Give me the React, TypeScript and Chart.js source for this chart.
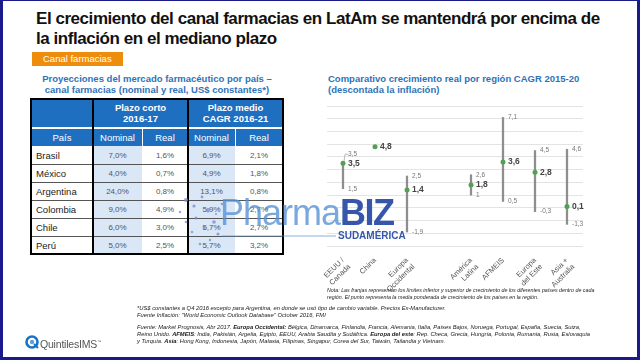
import React, { useEffect, useRef } from "react";
import { Chart, registerables } from "chart.js";

Chart.register(...registerables);

// ---- Chart data (right panel) ----
const regionLabels: (string | string[])[] = [
  ["EEUU /", "Canada"],
  "China",
  ["Europa", "Occidental"],
  "",
  ["América", "Latina"],
  "AFMEIS",
  ["Europa", "del Este"],
  ["Asia +", "Australia"],
];
const lowValues: (number | null)[] = [1.5, null, -1.9, null, 1, 0.5, -0.3, -1.3];
const highValues: (number | null)[] = [3.5, null, 2.5, null, 2.6, 7.1, 4.5, 4.6];
const midValues: (number | null)[] = [3.5, 4.8, 1.4, null, 1.8, 3.6, 2.8, 0.1];
const yMin = -3;
const yMax = 8;
const yStep = 1;

// ---- Table data (left panel) ----
const countries = ["Brasil", "México", "Argentina", "Colombia", "Chile", "Perú"];
const shortNominal = ["7,0%", "4,0%", "24,0%", "9,0%", "6,0%", "5,0%"];
const shortReal = ["1,6%", "0,7%", "0,8%", "4,9%", "3,0%", "2,5%"];
const midNominal = ["6,9%", "4,9%", "13,1%", "5,9%", "5,7%", "5,7%"];
const midReal = ["2,1%", "1,8%", "0,8%", "2,7%", "2,7%", "3,2%"];

const FONT = '"Liberation Sans", Arial, Helvetica, sans-serif';
const fmt = (v: number) => String(v).replace(".", ",");

const labelPlugin = {
  id: "rangeLabels",
  afterDatasetsDraw(chart: any) {
    const { ctx, scales } = chart;
    const x = scales.x;
    const y = scales.y;
    ctx.save();
    ctx.textBaseline = "middle";
    ctx.textAlign = "left";
    regionLabels.forEach((_, i) => {
      const px = x.getPixelForValue(i);
      const lo = lowValues[i];
      const hi = highValues[i];
      const mid = midValues[i];
      ctx.font = `6.5px ${FONT}`;
      ctx.fillStyle = "#777";
      if (hi != null) {
        let yy = y.getPixelForValue(hi);
        if (mid != null && Math.abs(hi - mid) < 0.3) {
          ctx.strokeStyle = "#aaa";
          ctx.lineWidth = 0.8;
          ctx.beginPath();
          ctx.moveTo(px + 1, yy - 2);
          ctx.lineTo(px + 2, yy - 9);
          ctx.lineTo(px + 5, yy - 9);
          ctx.stroke();
          yy -= 9;
        }
        ctx.fillText(fmt(hi), px + 5, yy);
      }
      if (lo != null) {
        ctx.fillText(fmt(lo), px + 5, y.getPixelForValue(lo));
      }
      if (mid != null) {
        ctx.font = `bold 8.5px ${FONT}`;
        ctx.fillStyle = "#444";
        ctx.fillText(fmt(mid), px + 5, y.getPixelForValue(mid));
      }
    });
    ctx.restore();
  },
};

function RangeChart() {
  const ref = useRef<HTMLCanvasElement>(null);
  useEffect(() => {
    if (!ref.current) return;
    const ranges = lowValues.map((lo, i) => {
      const hi = highValues[i];
      return lo != null && hi != null ? [lo, hi] : null;
    });
    const chart = new Chart(ref.current, {
      type: "bar",
      data: {
        labels: regionLabels as any,
        datasets: [
          {
            type: "line",
            data: midValues as any,
            showLine: false,
            pointRadius: 2.5,
            pointBackgroundColor: "#52a152",
            pointBorderWidth: 0,
            order: 0,
          } as any,
          {
            type: "bar",
            data: ranges as any,
            backgroundColor: "#8e8e8e",
            barThickness: 1.6,
            order: 1,
          } as any,
        ],
      },
      options: {
        responsive: false,
        animation: false,
        maintainAspectRatio: false,
        layout: { padding: { left: 22, right: 22, top: 10, bottom: 0 } },
        plugins: { legend: { display: false }, tooltip: { enabled: false } },
        scales: {
          x: {
            grid: { display: false },
            border: { display: false },
            ticks: {
              minRotation: 45,
              maxRotation: 45,
              autoSkip: false,
              padding: 2,
              color: "#555",
              font: { size: 7.5, family: FONT },
            },
            afterFit: (s: any) => {
              s.height = 50;
            },
          },
          y: {
            min: yMin,
            max: yMax,
            ticks: { display: false, stepSize: yStep },
            grid: { color: "#e4e4e4", lineWidth: 1, drawTicks: false },
            border: { display: false },
            afterFit: (s: any) => {
              s.width = 0;
            },
          },
        },
      },
      plugins: [labelPlugin],
    });
    return () => chart.destroy();
  }, []);
  return (
    <canvas
      ref={ref}
      width={300}
      height={200}
      style={{ position: "absolute", left: 305, top: 96, width: 300, height: 200 }}
    />
  );
}

const colX = [31, 93, 142, 188, 235, 283];
const dataTop = 146;
const rowH = 18;
const headBlue = "#1f6fc0";
const nominalBg = "#d9e7f7";

function Table() {
  const els: React.ReactNode[] = [];
  const abs = (l: number, t: number, w: number, h: number, extra: React.CSSProperties = {}) => ({
    position: "absolute" as const,
    left: l,
    top: t,
    width: w,
    height: h,
    ...extra,
  });
  // header background
  els.push(<div key="hbg" style={abs(31, 99, 252, 47, { background: headBlue })} />);
  // white separator between header rows
  els.push(<div key="hsep" style={abs(31, 127, 252, 2, { background: "#fff" })} />);
  // nominal column backgrounds
  els.push(<div key="nb1" style={abs(93, dataTop, 49, rowH * 6, { background: nominalBg })} />);
  els.push(<div key="nb2" style={abs(188, dataTop, 47, rowH * 6, { background: nominalBg })} />);
  // header texts
  const center: React.CSSProperties = {
    display: "flex",
    alignItems: "center",
    justifyContent: "center",
    textAlign: "center",
    color: "#fff",
    fontSize: 9.5,
    lineHeight: "11px",
  };
  els.push(
    <div key="h1a" style={abs(93, 99, 95, 28, { ...center, fontWeight: "bold" })}>
      Plazo corto
      <br />
      2016-17
    </div>
  );
  els.push(
    <div key="h1b" style={abs(188, 99, 95, 28, { ...center, fontWeight: "bold" })}>
      Plazo medio
      <br />
      CAGR 2016-21
    </div>
  );
  const sub = ["País", "Nominal", "Real", "Nominal", "Real"];
  sub.forEach((s, i) => {
    els.push(
      <div key={"h2" + i} style={abs(colX[i], 129, colX[i + 1] - colX[i], 17, center)}>
        {s}
      </div>
    );
  });
  // white thin lines in header row 2
  els.push(<div key="wl1" style={abs(141.5, 129, 1, 17, { background: "#fff" })} />);
  els.push(<div key="wl2" style={abs(234.5, 129, 1, 17, { background: "#fff" })} />);
  // data rows
  const cols = [shortNominal, shortReal, midNominal, midReal];
  countries.forEach((c, r) => {
    const top = dataTop + r * rowH;
    els.push(
      <div
        key={"c" + r}
        style={abs(36, top, 57, rowH, {
          display: "flex",
          alignItems: "center",
          fontSize: 9.5,
          color: "#222",
        })}
      >
        {c}
      </div>
    );
    cols.forEach((arr, ci) => {
      els.push(
        <div
          key={"d" + r + "-" + ci}
          style={abs(colX[ci + 1], top, colX[ci + 2] - colX[ci + 1], rowH, {
            ...center,
            color: "#555",
            fontSize: 8,
          })}
        >
          {arr[r]}
        </div>
      );
    });
    if (r > 0) {
      els.push(<div key={"rl" + r} style={abs(31, top, 252, 1, { background: "#555" })} />);
    }
  });
  // thick black verticals
  els.push(<div key="bv1" style={abs(92, 99, 2, 155, { background: "#000" })} />);
  els.push(<div key="bv2" style={abs(187, 99, 2, 155, { background: "#000" })} />);
  // outer border
  els.push(
    <div
      key="outer"
      style={abs(30, 98, 254, 157, { border: "2px solid #000", boxSizing: "border-box" })}
    />
  );
  return <>{els}</>;
}

function Watermark() {
  const dots = [
    [186, 200, 2], [194, 206, 1.6], [202, 197, 1.4], [208, 210, 2], [196, 218, 1.5],
    [186, 222, 1.3], [214, 222, 1.8], [204, 228, 1.4], [192, 232, 1.2], [218, 234, 1.6],
    [210, 240, 1.2], [200, 244, 1.3], [222, 204, 1.3], [180, 212, 1.2], [216, 214, 1.1],
  ];
  return (
    <div style={{ position: "absolute", left: 0, top: 0, width: 640, height: 360, pointerEvents: "none" }}>
      <svg width={640} height={360} style={{ position: "absolute", left: 0, top: 0 }}>
        {dots.map((d, i) => (
          <circle key={i} cx={d[0]} cy={d[1]} r={d[2]} fill="#7c86c8" opacity={0.75} />
        ))}
        <line x1={222} y1={236} x2={336} y2={236} stroke="#5b8fd0" strokeWidth={1} opacity={0.7} />
      </svg>
      <div
        style={{
          position: "absolute",
          left: 220,
          top: 195,
          fontSize: 36,
          lineHeight: "36px",
          letterSpacing: -1,
          color: "rgba(86,146,212,0.8)",
          fontFamily: FONT,
          whiteSpace: "nowrap",
        }}
      >
        Pharma
        <span style={{ color: "#3556ab", fontWeight: "bold", letterSpacing: -1.5 }}>BIZ</span>
      </div>
      <div
        style={{
          position: "absolute",
          left: 338,
          top: 230,
          fontSize: 10,
          lineHeight: "12px",
          fontWeight: "bold",
          color: "#3556ab",
          fontFamily: FONT,
          whiteSpace: "nowrap",
        }}
      >
        SUDAMÉRICA
      </div>
    </div>
  );
}

export default function App() {
  const foot: React.CSSProperties = {
    position: "absolute",
    fontStyle: "italic",
    fontSize: 5.8,
    lineHeight: "6.8px",
    color: "#222",
    whiteSpace: "nowrap",
  };
  return (
    <div
      style={{
        position: "absolute",
        left: 0,
        top: 0,
        width: 640,
        height: 360,
        background: "#1a1a8a",
        fontFamily: FONT,
        overflow: "hidden",
      }}
    >
      <div style={{ position: "absolute", left: 3, top: 1, width: 634, height: 356, background: "#fff" }} />
      {/* Title */}
      <div
        style={{
          position: "absolute",
          left: 36,
          top: 9,
          fontSize: 17,
          lineHeight: "20px",
          fontWeight: "bold",
          letterSpacing: -0.45,
          color: "#111",
          whiteSpace: "nowrap",
        }}
      >
        El crecimiento del canal farmacias en LatAm se mantendrá por encima de
        <br />
        la inflación en el mediano plazo
      </div>
      {/* Orange tag */}
      <div
        style={{
          position: "absolute",
          left: 32,
          top: 52,
          width: 91,
          height: 14,
          background: "#ee8d0c",
          color: "#fff",
          fontSize: 9.5,
          lineHeight: "14px",
          paddingLeft: 11,
          boxSizing: "border-box",
          whiteSpace: "nowrap",
        }}
      >
        Canal farmacias
      </div>
      {/* Table title */}
      <div
        style={{
          position: "absolute",
          left: 31,
          top: 73,
          width: 252,
          textAlign: "center",
          fontSize: 9.5,
          lineHeight: "11px",
          fontWeight: "bold",
          color: "#2e73b8",
          whiteSpace: "nowrap",
        }}
      >
        Proyecciones del mercado farmacéutico por país –
        <br />
        canal farmacias (nominal y real, US$ constantes*)
      </div>
      <Table />
      {/* Chart title */}
      <div
        style={{
          position: "absolute",
          left: 328,
          top: 73,
          fontSize: 9.5,
          lineHeight: "11px",
          fontWeight: "bold",
          color: "#2e73b8",
          whiteSpace: "nowrap",
        }}
      >
        Comparativo crecimiento real por región CAGR 2015-20
        <br />
        (descontada la inflación)
      </div>
      <RangeChart />
      <Watermark />
      {/* Notes */}
      <div style={{ ...foot, left: 327, top: 287, fontSize: 5.3, lineHeight: "6.5px" }}>
        Nota: Las franjas representan los límites inferior y superior de crecimiento de los diferentes países dentro de cada
        <br />
        región. El punto representa la media ponderada de crecimiento de los países en la región.
      </div>
      <div style={{ ...foot, left: 137, top: 305 }}>
        *US$ constantes a Q4 2016 excepto para Argentina, en donde se usó tipo de cambio variable. Precios Ex-Manufacturer.
        <br />
        Fuente Inflación: "World Economic Outlook Database" October 2016, FMI
      </div>
      <div style={{ ...foot, left: 137, top: 324 }}>
        Fuente: Market Prognosis, Abr 2017. <b>Europa Occidental:</b> Bélgica, Dinamarca, Finlandia, Francia, Alemania,
        Italia, Países Bajos, Noruega, Portugal, España, Suecia, Suiza,
        <br />
        Reino Unido. <b>AFMEIS</b>: India, Pakistán, Argelia, Egipto, EEUU, Arabia Saudita y Sudáfrica. <b>Europa del este</b>:
        Rep. Checa, Grecia, Hungría, Polonia, Rumania, Rusia, Eslovaquia
        <br />
        y Turquía. <b>Asia</b>: Hong Kong, Indonesia, Japón, Malasia, Filipinas, Singapur, Corea del Sur, Taiwán, Tailandia y
        Vietnam.
      </div>
      {/* Logo */}
      <svg width={16} height={16} style={{ position: "absolute", left: 24, top: 334 }}>
        <circle cx={8} cy={8} r={5.5} fill="none" stroke="#1a72c4" strokeWidth={2.6} />
        <circle cx={8} cy={8} r={2.2} fill="#5aa0dc" />
        <line x1={10} y1={10} x2={14} y2={14} stroke="#1a72c4" strokeWidth={2} />
      </svg>
      <div
        style={{
          position: "absolute",
          left: 40,
          top: 336,
          fontSize: 10.5,
          lineHeight: "12px",
          color: "#555",
          letterSpacing: -0.2,
          whiteSpace: "nowrap",
        }}
      >
        QuintilesIMS<sup style={{ fontSize: 4 }}>™</sup>
      </div>
    </div>
  );
}
